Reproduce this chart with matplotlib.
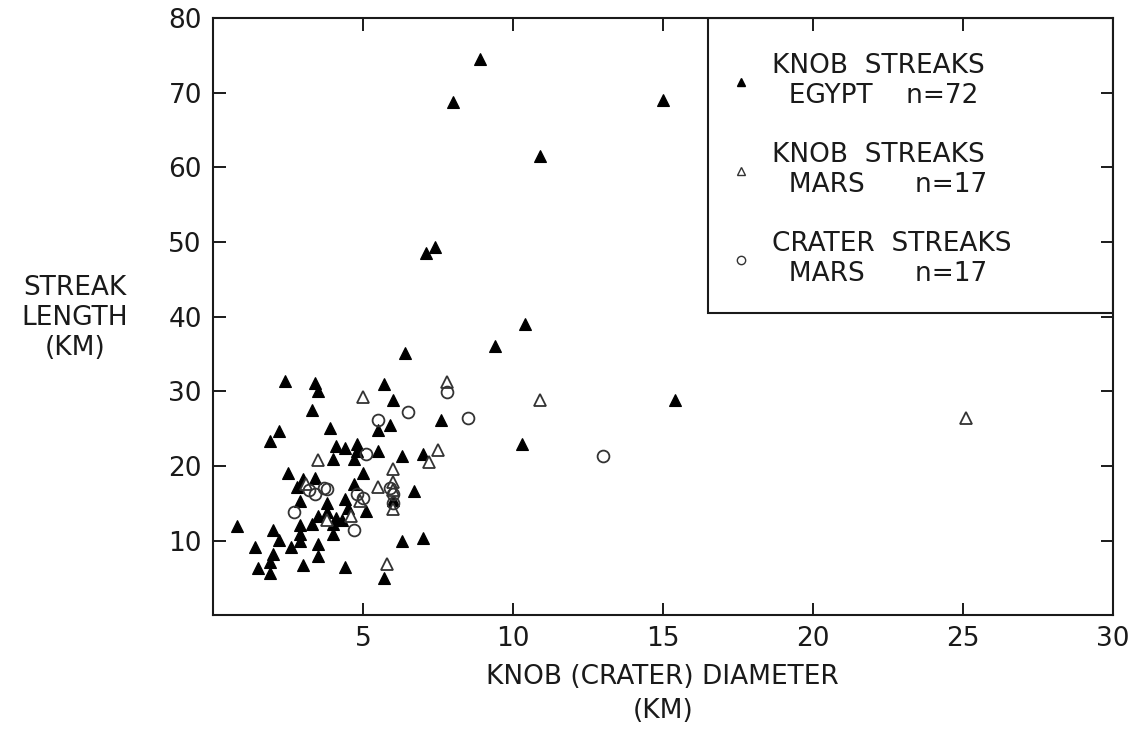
"""Streak length vs knob (crater) diameter, Egypt and Mars."""
import matplotlib
matplotlib.use("Agg")
import matplotlib.pyplot as plt
from matplotlib.lines import Line2D
from matplotlib.patches import Rectangle

# Knob streaks, Egypt (filled triangles): diameter km, streak length km
egypt_d = [8.9, 8.0, 15.0, 10.9, 7.1, 7.4, 10.4, 9.4, 15.4, 10.3, 7.6,
           6.4, 2.4, 3.4, 3.5, 5.7, 6.0, 3.3, 3.9, 5.9, 5.5,
           2.2, 1.9, 4.1, 4.4, 4.8, 4.8, 5.5, 4.0, 4.7, 6.3,
           7.0, 2.5, 5.0, 3.4, 3.0, 2.8, 4.7, 6.7, 2.9, 3.8,
           4.4, 4.5, 3.8, 5.1, 3.5, 4.1, 4.3, 3.3, 4.0, 4.0,
           2.9, 2.9, 2.9, 0.8, 2.0, 2.2, 1.4, 2.6, 3.5, 3.5,
           2.0, 1.9, 1.5, 3.0, 4.4, 1.9, 5.7, 6.3, 7.0, 3.0, 6.0]
egypt_len = [74.5, 68.8, 69.0, 61.6, 48.6, 49.3, 39.0, 36.1, 28.8, 23.0, 26.1,
             35.2, 31.4, 31.1, 30.1, 31.0, 28.8, 27.5, 25.1, 25.5, 24.8,
             24.7, 23.4, 22.7, 22.4, 23.0, 22.0, 22.0, 21.0, 21.0, 21.3,
             21.6, 19.1, 19.1, 18.4, 17.8, 17.2, 17.6, 16.6, 15.3, 15.1,
             15.6, 14.4, 13.8, 14.0, 13.3, 13.1, 12.7, 12.2, 12.2, 10.9,
             12.1, 10.9, 10.0, 11.9, 11.4, 10.1, 9.2, 9.1, 9.5, 8.0,
             8.2, 7.2, 6.4, 6.7, 6.5, 5.6, 5.0, 10.0, 10.4, 18.2, 15.4]

# Knob streaks, Mars (open triangles)
mars_knob_d = [7.8, 5.0, 10.9, 25.1, 7.5, 7.2, 6.0, 6.0, 5.5, 6.0,
               5.8, 3.5, 3.8, 4.6, 6.0, 4.9, 3.1]
mars_knob_len = [31.2, 29.2, 28.8, 26.5, 22.2, 20.5, 19.6, 17.8, 17.2, 14.3,
                 6.9, 20.8, 12.8, 13.3, 16.8, 15.3, 17.6]

# Crater streaks, Mars (open circles)
mars_crater_d = [7.8, 6.5, 8.5, 5.5, 13.0, 5.1, 3.2, 3.4, 3.8, 4.8,
                 5.0, 6.0, 2.7, 4.7, 3.7, 6.0, 5.9]
mars_crater_len = [29.9, 27.3, 26.5, 26.2, 21.3, 21.6, 16.8, 16.2, 16.9, 16.2,
                   15.7, 16.2, 13.9, 11.4, 17.1, 15.0, 17.0]

xticks = [5, 10, 15, 20, 25, 30]
yticks = [10, 20, 30, 40, 50, 60, 70, 80]

plt.rcParams['font.family'] = ['DejaVu Sans']
ink = '#1a1a1a'
fs = 19

fig = plt.figure(figsize=(11.33, 7.29), dpi=100)
ax = fig.add_axes([0.188, 0.156, 0.794, 0.819])

ax.plot(egypt_d, egypt_len, linestyle='none', marker='^', markersize=8.5,
        color='black', markeredgewidth=0.8)
ax.plot(mars_knob_d, mars_knob_len, linestyle='none', marker='^',
        markersize=8, markerfacecolor='white', markeredgecolor='#333333',
        markeredgewidth=1.3)
ax.plot(mars_crater_d, mars_crater_len, linestyle='none', marker='o',
        markersize=8.5, markerfacecolor='none', markeredgecolor='#333333',
        markeredgewidth=1.3)

ax.set_xlim(0, 30)
ax.set_ylim(0, 80)
ax.set_xticks(xticks)
ax.set_yticks(yticks)
ax.tick_params(direction='in', length=9, width=1.4, top=True, right=True,
               labelsize=fs, colors=ink, pad=8)
for s in ax.spines.values():
    s.set_linewidth(1.5)
    s.set_color(ink)

fig.text(75 / 1133, 1 - 318 / 729, 'STREAK\nLENGTH\n(KM)', ha='center',
         va='center', fontsize=fs, color=ink, linespacing=1.2)
fig.text(0.5 * (0.188 + 0.982), 1 - 694 / 729, 'KNOB (CRATER) DIAMETER\n(KM)',
         ha='center', va='center', fontsize=fs, color=ink, linespacing=1.35)

# legend frame: a box in the upper right corner of the axes
ax.add_patch(Rectangle((0.55, 0.506), 0.45, 0.494, transform=ax.transAxes,
                       facecolor='none', edgecolor=ink, linewidth=1.5,
                       zorder=4))
handles = [
    Line2D([], [], linestyle='none', marker='^', markersize=6, color='black'),
    Line2D([], [], linestyle='none', marker='^', markersize=6,
           markerfacecolor='white', markeredgecolor='#333333'),
    Line2D([], [], linestyle='none', marker='o', markersize=6,
           markerfacecolor='none', markeredgecolor='#333333'),
]
labels = ['KNOB  STREAKS\n  EGYPT    n=72',
          'KNOB  STREAKS\n  MARS      n=17',
          'CRATER  STREAKS\n  MARS      n=17']
leg = ax.legend(handles, labels, loc='upper left',
                bbox_to_anchor=(0.577, 0.942), borderaxespad=0, borderpad=0,
                frameon=False, fontsize=fs, handlelength=0.7,
                handletextpad=0.8, labelspacing=1.25)
leg.set_zorder(5)
for t in leg.get_texts():
    t.set_color(ink)

fig.savefig('out.png', dpi=100)
